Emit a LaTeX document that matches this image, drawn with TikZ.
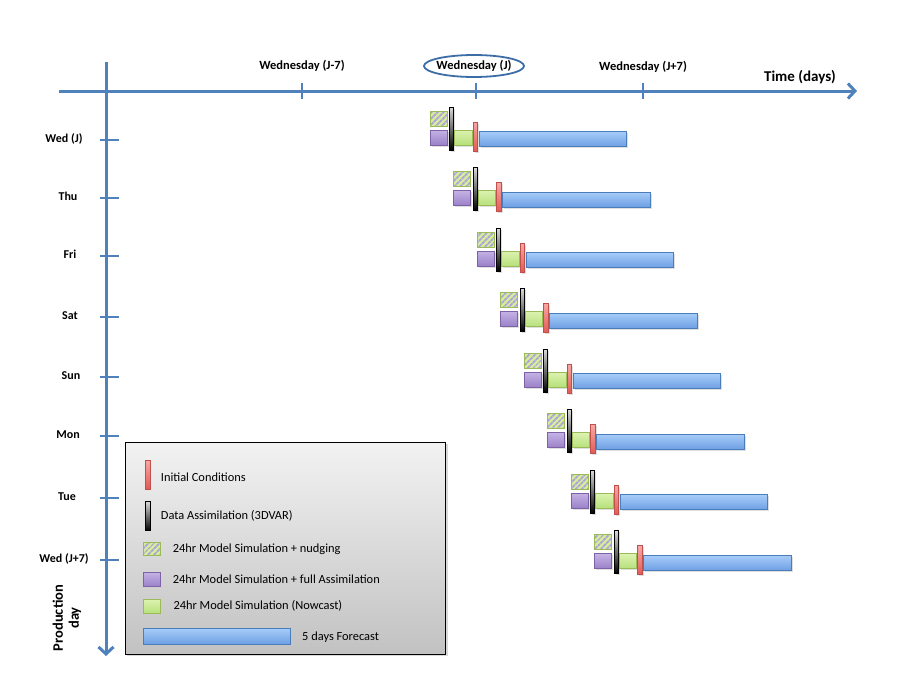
\documentclass[tikz,border=0pt]{standalone}
\usepackage{fontspec}
\setmainfont{Carlito}
\usetikzlibrary{arrows.meta,patterns.meta,shadows,shapes.geometric}
\definecolor{axisblue}{HTML}{4F81BD}
\definecolor{ellblue}{HTML}{3C6DA6}
\definecolor{gborder}{HTML}{9BBB59}
\definecolor{glight}{HTML}{DCF2B0}
\definecolor{ghatch}{HTML}{D4EE9C}
\definecolor{gdark}{HTML}{B6E07A}
\definecolor{pborder}{HTML}{7E62A6}
\definecolor{plight}{HTML}{C4B2E4}
\definecolor{pdark}{HTML}{9A80C8}
\definecolor{lav}{HTML}{B0A2D8}
\definecolor{rborder}{HTML}{C0504D}
\definecolor{rlight}{HTML}{F7A8A4}
\definecolor{rdark}{HTML}{E25A55}
\definecolor{blight}{HTML}{A6CCF8}
\definecolor{bdark}{HTML}{6E9FE4}
\definecolor{bborder}{HTML}{4A7EBB}
\tikzset{
  axisline/.style={draw=axisblue, line width=3pt},
  tickline/.style={draw=axisblue, line width=2.6pt},
  hatchbox/.style={draw=gborder, line width=1pt, preaction={fill=ghatch},
     pattern={Lines[angle=45,distance=4pt,line width=2pt]}, pattern color=lav},
  purplebox/.style={draw=pborder, line width=1pt, top color=plight, bottom color=pdark},
  greenbox/.style={draw=gborder, line width=1pt, top color=glight, bottom color=gdark},
  redbar/.style={draw=rborder, line width=1pt, top color=rlight, bottom color=rdark},
  blackbar/.style={draw=black, line width=1pt, top color=black!15, bottom color=black},
  bluebar/.style={draw=bborder, line width=1pt, top color=blight, bottom color=bdark},
  toplabel/.style={font=\fontsize{12.5}{14}\selectfont\bfseries, inner sep=0pt},
  daylabel/.style={font=\fontsize{12}{14}\selectfont\bfseries, inner sep=0pt},
  legtext/.style={font=\fontsize{12.4}{14}\selectfont, inner sep=0pt, anchor=west},
  softshadow/.style={drop shadow={opacity=0.25, shadow xshift=1.5pt, shadow yshift=-1.5pt}}
}
\begin{document}
\begin{tikzpicture}[x=1pt,y=-1pt]
\useasboundingbox (0,0) rectangle (900,675);
% axes
\coordinate (hstart) at (59,91);
\coordinate (hend) at (857,91);
\coordinate (vstart) at (106,62);
\coordinate (vend) at (106,656);
\draw[axisline, -{Straight Barb[length=7pt,width=15pt,line width=3pt]}] (hstart) -- (hend);
\draw[axisline, -{Straight Barb[length=7pt,width=15pt,line width=3pt]}] (vstart) -- (vend);
% top ticks
\foreach \x/\n in {302/a,476/b,643/c}{
  \coordinate (tt\n1) at (\x,83);
  \coordinate (tt\n2) at (\x,99);
  \draw[tickline] (tt\n1) -- (tt\n2);
}
\node[toplabel] (lj7m) at (302,66) {Wednesday (J-7)};
\node[ellipse, draw=ellblue, line width=1.8pt, minimum width=100pt, minimum height=22pt, inner sep=0pt] (ell) at (474,66) {};
\node[toplabel] (lj) at (474,66) {Wednesday (J)};
\node[toplabel] (lj7p) at (643,67) {Wednesday (J+7)};
\node[font=\fontsize{15}{17}\selectfont\bfseries, inner sep=0pt] (ltime) at (800,77) {Time (days)};
% left ticks and labels
\foreach \y/\t/\lx/\n in {140/Wed (J)/64/a,198/Thu/68/b,256/Fri/70/c,317/Sat/70/d,377/Sun/71/e,436/Mon/68/f,498/Tue/67/g,560/Wed (J+7)/64/h}{
  \coordinate (lt\n1) at (100,\y);
  \coordinate (lt\n2) at (119,\y);
  \draw[tickline] (lt\n1) -- (lt\n2);
  \node[daylabel] (dl\n) at (\lx,\y-1.5) {\t};
}
\node[font=\fontsize{14.5}{16}\selectfont\bfseries, rotate=90, align=center, inner sep=0pt] (prod) at (67,618) {Production\\day};
% rows
\foreach \i in {0,...,7}{
  \begin{scope}[shift={(23.57*\i,60.57*\i)}]
    \path[hatchbox] (430,111) rectangle (447,126);
    \path[purplebox, softshadow] (430,130) rectangle (447,145);
    \path[blackbar, softshadow] (449.5,107) rectangle (453.5,150);
    \path[greenbox, softshadow] (454.5,130) rectangle (472,145);
    \path[redbar, softshadow] (473,122) rectangle (477.5,151);
    \path[bluebar, softshadow] (479,131.5) rectangle (626.5,146.5);
  \end{scope}
}
% legend
\path[draw=black, line width=0.9pt, top color=black!5, bottom color=black!24, drop shadow={opacity=0.3, shadow xshift=2pt, shadow yshift=-2pt}] (125,442) rectangle (445.5,654);
\path[redbar] (145.5,460) rectangle (150.5,489);
\node[legtext] (t1) at (160.7,477.5) {Initial Conditions};
\path[blackbar] (145.5,501.5) rectangle (150.5,530.5);
\node[legtext] (t2) at (160.7,516) {Data Assimilation (3DVAR)};
\path[hatchbox] (143.5,542.5) rectangle (160.5,555.5);
\node[legtext] (t3) at (172.7,549) {24hr Model Simulation + nudging};
\path[purplebox] (143.5,572.5) rectangle (160.5,586.5);
\node[legtext] (t4) at (172.7,579.5) {24hr Model Simulation + full Assimilation};
\path[greenbox] (143.5,599.5) rectangle (160.5,613.5);
\node[legtext] (t5) at (173.3,605.5) {24hr Model Simulation (Nowcast)};
\path[bluebar] (143.5,628.5) rectangle (290.5,644);
\node[legtext] (t6) at (302,637) {5 days Forecast};
\end{tikzpicture}
\end{document}
